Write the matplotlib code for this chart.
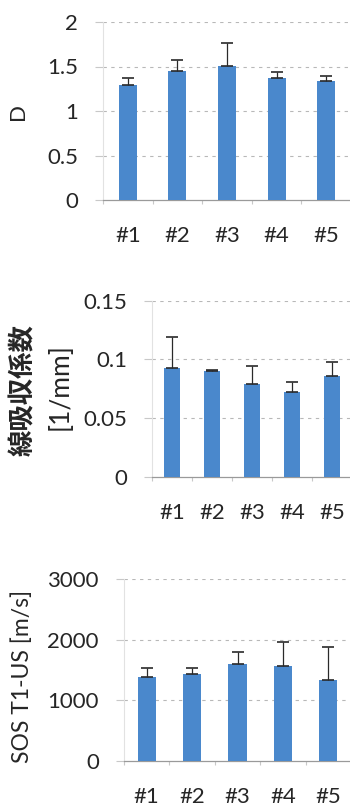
import matplotlib
matplotlib.use("Agg")
import matplotlib.pyplot as plt

plt.rcParams['font.family'] = ['Lato', 'Noto Sans CJK JP', 'DejaVu Sans']

categories = ['#1', '#2', '#3', '#4', '#5']

# D
d_mean = [1.29, 1.45, 1.51, 1.37, 1.34]
d_err = [0.08, 0.12, 0.25, 0.07, 0.05]
d_ticks = [0, 0.5, 1, 1.5, 2]
d_ticklabels = ['0', '0.5', '1', '1.5', '2']

# linear attenuation coefficient [1/mm]
mu_mean = [0.093, 0.090, 0.079, 0.072, 0.086]
mu_err = [0.026, 0.001, 0.015, 0.009, 0.012]
mu_ticks = [0, 0.05, 0.1, 0.15]
mu_ticklabels = ['0', '0.05', '0.1', '0.15']

# speed of sound [m/s]
sos_mean = [1390, 1430, 1595, 1572, 1335]
sos_err = [140, 100, 208, 392, 541]
sos_ticks = [0, 1000, 2000, 3000]
sos_ticklabels = ['0', '1000', '2000', '3000']

W, H = 350, 807
BAR = '#4a88cc'
TXT = '#262626'
GRID = '#b8b8b8'

fig = plt.figure(figsize=(W / 100, H / 100), dpi=100)


def panel(left, right, top, bottom, means, errs, ticks, ticklabels, width):
    ax = fig.add_axes([left / W, 1 - bottom / H, (right - left) / W, (bottom - top) / H])
    x = list(range(len(categories)))
    ax.bar(x, means, width=width, color=BAR, zorder=3)
    ax.errorbar(x, means, yerr=[[0] * len(errs), errs], fmt='none',
                ecolor='#2a2a2a', elinewidth=0.9, capsize=4.5, capthick=1.2, zorder=4)
    ax.set_xlim(-0.5, len(categories) - 0.5)
    ax.set_ylim(ticks[0], ticks[-1])
    ax.set_yticks(ticks)
    ax.set_yticklabels(ticklabels)
    ax.set_xticks(x)
    ax.set_xticklabels(categories)
    ax.set_xticks([i + 0.5 for i in range(-1, len(categories))], minor=True)
    for t in ticks[1:]:
        ax.axhline(t, color=GRID, lw=0.8, ls=(0, (3, 4)), zorder=1)
    for s in ['top', 'right']:
        ax.spines[s].set_visible(False)
    ax.spines['left'].set_color('#e2e2e2')
    ax.spines['left'].set_linewidth(0.8)
    ax.spines['bottom'].set_color('#9a9a9a')
    ax.spines['bottom'].set_linewidth(0.9)
    ax.tick_params(axis='y', length=6, color='#c8c8c8', width=0.8,
                   labelsize=16, labelcolor=TXT, pad=12)
    ax.tick_params(axis='x', which='major', length=0, labelsize=16,
                   labelcolor=TXT, pad=19)
    ax.tick_params(axis='x', which='minor', length=3, color='#c8c8c8', width=0.8)
    return ax


panel(103, 351, 22, 200, d_mean, d_err, d_ticks, d_ticklabels, 0.36)
panel(152, 352, 300.7, 476.7, mu_mean, mu_err, mu_ticks, mu_ticklabels, 0.42)
panel(124, 351, 579.3, 760.7, sos_mean, sos_err, sos_ticks, sos_ticklabels, 0.40)

fig.text(18 / W, 1 - 112 / H, 'D', rotation=90, ha='center', va='center',
         fontsize=16, color=TXT)
fig.text(24 / W, 1 - 390 / H, '線吸収係数', rotation=90, ha='center', va='center',
         fontsize=19, fontweight='bold', color=TXT, family=['Noto Sans CJK JP'])
fig.text(60 / W, 1 - 387 / H, '[1/mm]', rotation=90, ha='center', va='center',
         fontsize=19, color=TXT)
fig.text(22 / W, 1 - 676 / H, 'SOS T1-US [m/s]', rotation=90, ha='center', va='center',
         fontsize=16.5, color=TXT)

fig.savefig('out.png', dpi=100, facecolor='white')
